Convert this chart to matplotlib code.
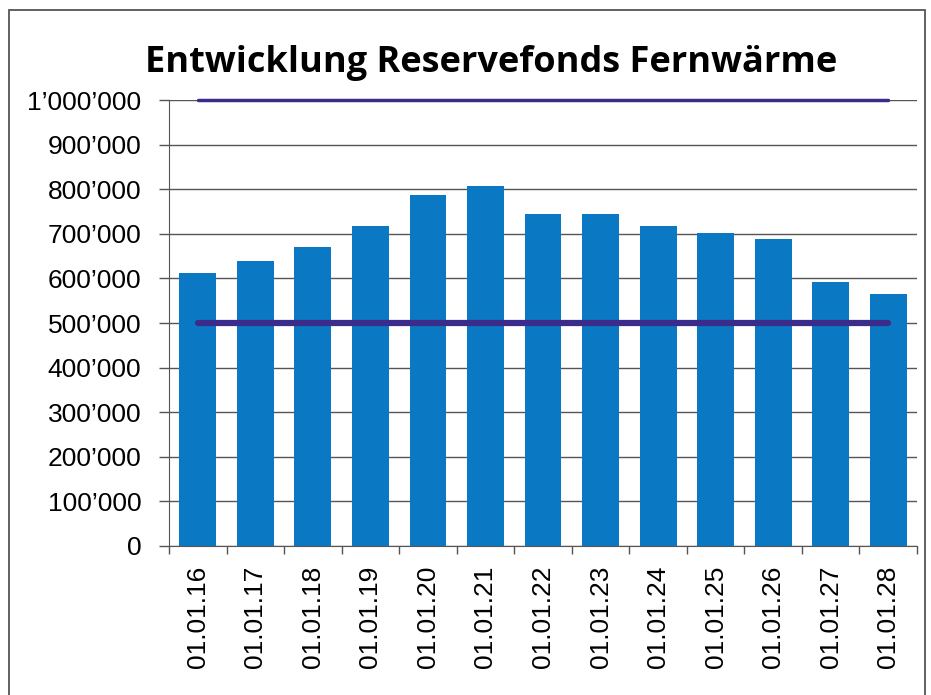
import matplotlib.pyplot as plt
from matplotlib.patches import Rectangle
from matplotlib.ticker import FuncFormatter

# Werte Reservefonds (CHF)
daten = ["01.01.16", "01.01.17", "01.01.18", "01.01.19", "01.01.20", "01.01.21", "01.01.22",
         "01.01.23", "01.01.24", "01.01.25", "01.01.26", "01.01.27", "01.01.28"]
fonds = [613000, 639000, 671000, 717000, 787000, 807000, 745000,
         744000, 718000, 701000, 688000, 593000, 565000]
obergrenze = 1000000
untergrenze = 500000

fig = plt.figure(figsize=(9.31, 6.95), dpi=100)
ax = fig.add_axes([0.1815, 0.2144, 0.8035, 0.6416])

# Rahmen um das Bild
fig.patches.append(Rectangle((9 / 931, -0.05), 916 / 931, 1.05 - 10 / 695, transform=fig.transFigure,
                             fill=False, edgecolor="#555555", linewidth=1.3))

x = list(range(len(daten)))
ax.bar(x, fonds, width=0.64, color="#0a78c2", zorder=2)
ax.plot([x[0], x[-1]], [obergrenze, obergrenze], color="#3b2c8c", linewidth=2.5, zorder=3,
        solid_capstyle="round", clip_on=False)
ax.plot([x[0], x[-1]], [untergrenze, untergrenze], color="#3b2c8c", linewidth=4.5, zorder=3,
        solid_capstyle="round")

ax.set_xlim(-0.5, len(daten) - 0.5)
ax.set_ylim(0, 1000000)
ax.set_yticks(range(0, 1000001, 100000))
ax.yaxis.set_major_formatter(FuncFormatter(lambda v, p: f"{int(v):,}".replace(",", "\u2019")))
ax.grid(axis="y", color="#555555", linewidth=1, zorder=1)

ax.set_xticks(x)
ax.set_xticklabels(daten, rotation=90, fontsize=19, fontfamily="Liberation Sans")
ax.set_xticks([i - 0.5 for i in range(len(daten) + 1)], minor=True)
ax.tick_params(axis="x", which="major", length=0, pad=14)
ax.tick_params(axis="x", which="minor", length=6, width=1, color="#555555", direction="out")
ax.tick_params(axis="y", length=7, width=1, color="#555555", pad=13)
for lab in ax.get_yticklabels():
    lab.set_fontsize(19)
    lab.set_fontfamily("Liberation Sans")

for s in ["top", "right"]:
    ax.spines[s].set_visible(False)
ax.spines["left"].set_color("#555555")
ax.spines["bottom"].set_color("#555555")

fig.text(0.527, 0.91, "Entwicklung Reservefonds Fernwärme", ha="center", va="center",
         fontsize=26, fontweight="bold", fontfamily="Open Sans")

fig.savefig("out.png", dpi=100)
